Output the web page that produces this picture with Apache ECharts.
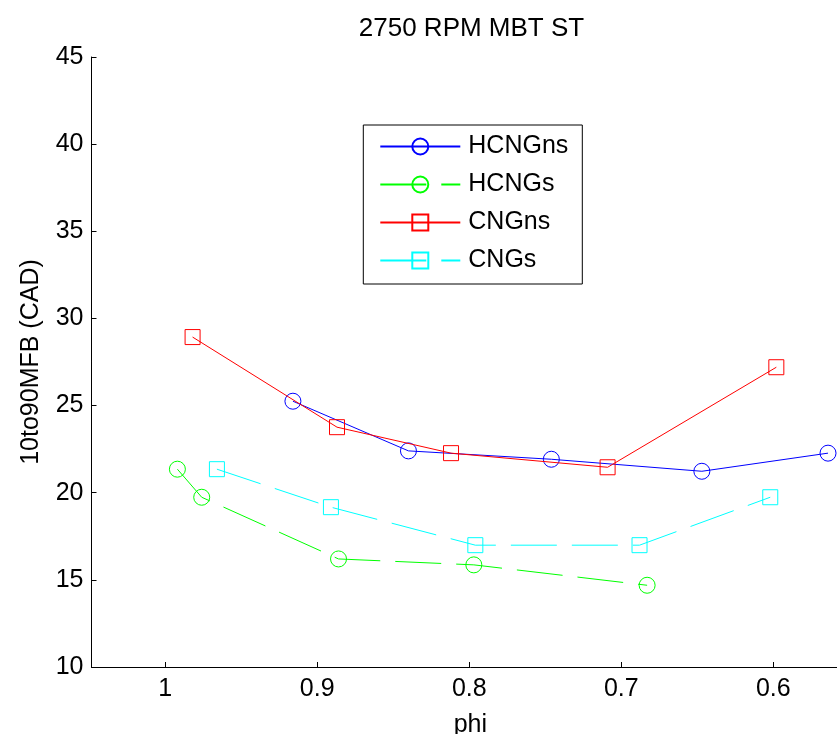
<!DOCTYPE html>
<html>
<head>
<meta charset="utf-8">
<script src="https://cdn.jsdelivr.net/npm/echarts@6/dist/echarts.min.js"></script>
<style>
html,body{margin:0;padding:0;background:#fff;overflow:hidden;width:837px;height:734px;}
#chart{width:860px;height:734px;}
</style>
</head>
<body>
<div id="chart"></div>
<script>
// ---- data ----
var titleText = '2750 RPM MBT ST';
var xName = 'phi';
var yName = '10to90MFB (CAD)';
var seriesNames = ['HCNGns', 'HCNGs', 'CNGns', 'CNGs'];

var phiHCNGns = [0.916, 0.840, 0.746, 0.647, 0.564];
var valHCNGns = [25.25, 22.40, 21.92, 21.23, 22.27];

var phiHCNGs = [0.992, 0.976, 0.886, 0.797, 0.683];
var valHCNGs = [21.35, 19.74, 16.20, 15.86, 14.69];

var phiCNGns = [0.982, 0.887, 0.812, 0.709, 0.598];
var valCNGns = [28.93, 23.76, 22.27, 21.46, 27.20];

var phiCNGs = [0.966, 0.891, 0.796, 0.688, 0.602];
var valCNGs = [21.35, 19.17, 16.99, 16.99, 19.74];

var xMin = 0.55, xMax = 1.0485;
var yMin = 10, yMax = 45, yStep = 5;

function pairs(xs, ys) {
  return xs.map(function (x, i) { return [x, ys[i]]; });
}

var FONT = '"Liberation Sans", Arial, Helvetica, sans-serif';
var colors = ['#0000ff', '#00ff00', '#ff0000', '#00ffff'];
var symbols = ['circle', 'circle', 'rect', 'rect'];
var dashed = [false, true, false, true];
var dataSets = [
  pairs(phiHCNGns, valHCNGns),
  pairs(phiHCNGs, valHCNGs),
  pairs(phiCNGns, valCNGns),
  pairs(phiCNGs, valCNGs)
];

var series = seriesNames.map(function (name, i) {
  return {
    name: name,
    type: 'line',
    data: dataSets[i],
    symbol: symbols[i],
    symbolSize: symbols[i] === 'rect' ? 15 : 16,
    showAllSymbol: true,
    lineStyle: { color: colors[i], width: 1, type: dashed[i] ? [46, 15] : 'solid' },
    itemStyle: { color: 'rgba(255,255,255,0)', borderColor: colors[i], borderWidth: 1 },
    emphasis: { disabled: true },
    z: 2 + i
  };
});

var chart = echarts.init(document.getElementById('chart'), null, { renderer: 'canvas' });
chart.setOption({
  animation: false,
  backgroundColor: '#ffffff',
  textStyle: { fontFamily: FONT },
  grid: { left: 91.5, top: 57, right: 10.7, bottom: 67, containLabel: false, outerBoundsMode: 'none' },
  graphic: [{
    type: 'text',
    x: 471.5, y: 29,
    style: {
      text: titleText, fill: '#000', font: '26px ' + FONT,
      align: 'center', verticalAlign: 'middle'
    }
  }],
  legend: {
    orient: 'vertical',
    left: 363.3, top: 125,
    backgroundColor: '#ffffff',
    borderColor: '#000000', borderWidth: 1,
    padding: [9, 14, 11, 16],
    itemGap: 13,
    itemWidth: 80, itemHeight: 20,
    textStyle: { fontSize: 25, color: '#000', fontFamily: FONT, padding: [0, 0, 0, 3] },
    data: seriesNames
  },
  xAxis: {
    type: 'value',
    inverse: true,
    min: xMin, max: xMax,
    name: xName,
    nameLocation: 'middle',
    nameGap: 46,
    nameTextStyle: { fontSize: 25, color: '#000', fontFamily: FONT },
    axisLine: { onZero: false, lineStyle: { color: '#000', width: 1 } },
    axisTick: { inside: true, length: 5, lineStyle: { color: '#000' } },
    axisLabel: {
      fontSize: 25, color: '#000', margin: 10, fontFamily: FONT,
      showMinLabel: false, showMaxLabel: false,
      formatter: function (v) {
        var r = Math.round(v * 10) / 10;
        if (Math.abs(r - v) > 1e-6) return '';
        return String(r);
      }
    },
    splitLine: { show: false }
  },
  yAxis: {
    type: 'value',
    min: yMin, max: yMax, interval: yStep,
    name: yName,
    nameLocation: 'middle',
    nameRotate: 90,
    nameGap: 48,
    nameTextStyle: { fontSize: 25, color: '#000', fontFamily: FONT },
    axisLine: { onZero: false, lineStyle: { color: '#000', width: 1 } },
    axisTick: { inside: true, length: 5, lineStyle: { color: '#000' } },
    axisLabel: { fontSize: 25, color: '#000', margin: 8, fontFamily: FONT },
    splitLine: { show: false }
  },
  series: series
});
</script>
</body>
</html>
